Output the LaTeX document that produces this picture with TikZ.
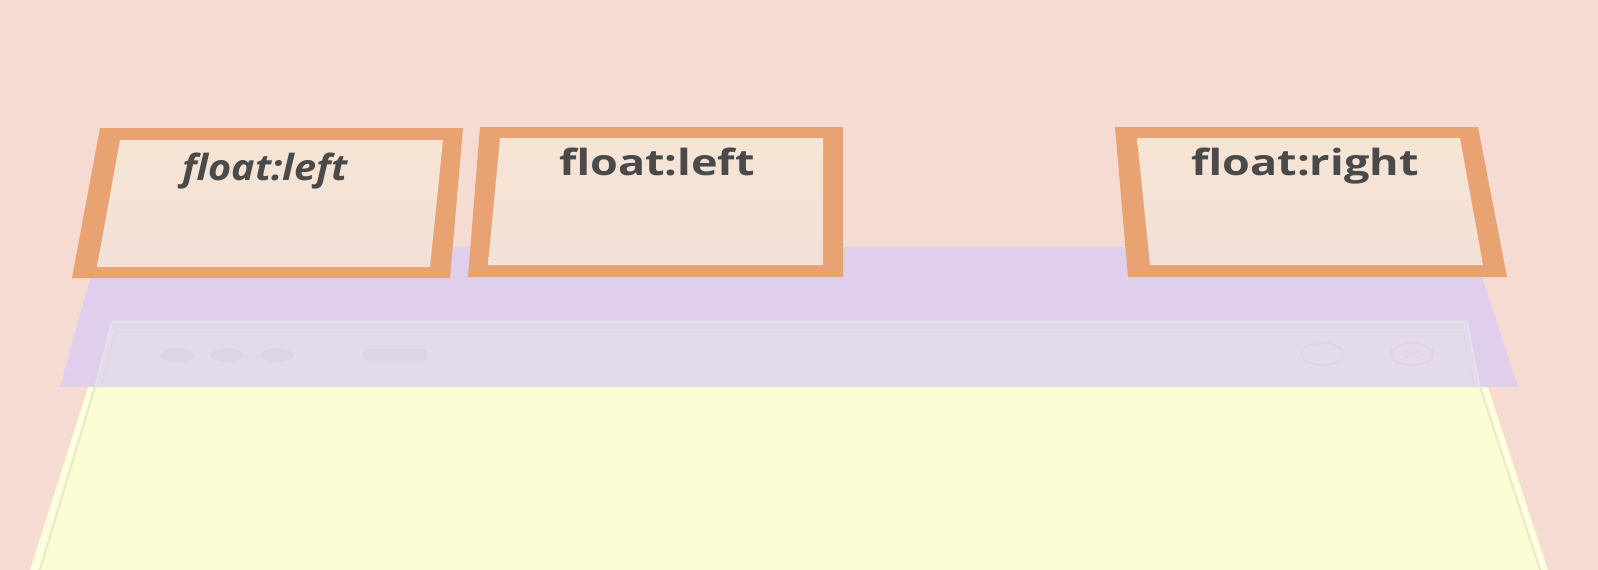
\documentclass[tikz,border=0pt]{standalone}
\usepackage{fontspec}
\setmainfont{Open Sans}
\begin{document}
\begin{tikzpicture}[x=1pt,y=-1pt,
  frame/.style={fill=boxorange},
  inner/.style={top color=boxfill, bottom color=boxfill!85!bandcol},
  lbl/.style={text=textgray, font=\fontsize{36}{40}\selectfont\bfseries, anchor=base, inner sep=0pt},
  faint/.style={opacity=0.55}]
\definecolor{bgcol}{HTML}{F5DBD1}
\definecolor{bandcol}{HTML}{DFCFEC}
\definecolor{wincol}{HTML}{E3DAEA}
\definecolor{yellowcol}{HTML}{FCFDD4}
\definecolor{greenline}{HTML}{E6EDC2}
\definecolor{boxorange}{HTML}{E9A272}
\definecolor{boxfill}{HTML}{F6E4D4}
\definecolor{textgray}{HTML}{4A4A4A}
\definecolor{iconcol}{HTML}{D9D0E5}
\definecolor{closecol}{HTML}{E6CADD}
\useasboundingbox (0,0) rectangle (1598,570);
\fill[bgcol] (0,0) rectangle (1598,570);
% page (yellow)
\fill[yellowcol] (88,387) -- (1488,387) -- (1548,570) -- (30,570) -- cycle;
% band
\fill[bandcol] (99,247) -- (1472,247) -- (1518,387) -- (60,387) -- cycle;
% browser window part inside band
\fill[wincol] (112,321) -- (1467,321) -- (1480,387) -- (95,387) -- cycle;
\draw[white, opacity=0.25, line width=1.5pt] (95,387) -- (112,321) -- (1467,321) -- (1480,387);
\draw[iconcol, opacity=0.4, line width=1pt] (101,387) -- (116,332) -- (1463,332) -- (1475,387);
% window edges on the page
\draw[white, opacity=0.7, line width=2pt] (91,387) -- (35,570);
\draw[greenline, line width=2pt] (95,387) -- (40,570);
\draw[white, opacity=0.7, line width=2pt] (1484,387) -- (1544,570);
\draw[greenline, line width=2pt] (1480,387) -- (1540,570);
% faint browser controls
\fill[iconcol, faint] (177,355) ellipse (17 and 7);
\fill[iconcol, faint] (227,355) ellipse (17 and 7);
\fill[iconcol, faint] (277,355) ellipse (17 and 7);
\fill[iconcol, faint, rounded corners=6pt] (363,349) rectangle (428,361);
\draw[iconcol, faint, line width=1.5pt] (1322,354) ellipse (21 and 11);
\draw[closecol, faint, line width=1.5pt] (1412,354) ellipse (21 and 11);
\draw[closecol, faint, line width=1.5pt] (1404,350) -- (1420,358) (1404,358) -- (1420,350);
% box 1
\fill[frame] (100,128) -- (463,128) -- (450,278) -- (72,278) -- cycle;
\shade[inner] (120,140) -- (443,140) -- (430,267) -- (97,267) -- cycle;
\node[lbl, font=\fontsize{36}{40}\selectfont\bfseries\itshape, xscale=1.1] (t1) at (265,180) {float:left};
% box 2
\fill[frame] (480,127) -- (843,127) -- (843,277) -- (468,277) -- cycle;
\shade[inner] (500,138) -- (823,138) -- (823,265) -- (488,265) -- cycle;
\node[lbl, xscale=1.25] (t2) at (657,175) {float:left};
% box 3
\fill[frame] (1115,127) -- (1478,127) -- (1507,277) -- (1128,277) -- cycle;
\shade[inner] (1137,138) -- (1460,138) -- (1483,265) -- (1150,265) -- cycle;
\node[lbl, xscale=1.25] (t3) at (1305,175) {float:right};
\end{tikzpicture}
\end{document}
